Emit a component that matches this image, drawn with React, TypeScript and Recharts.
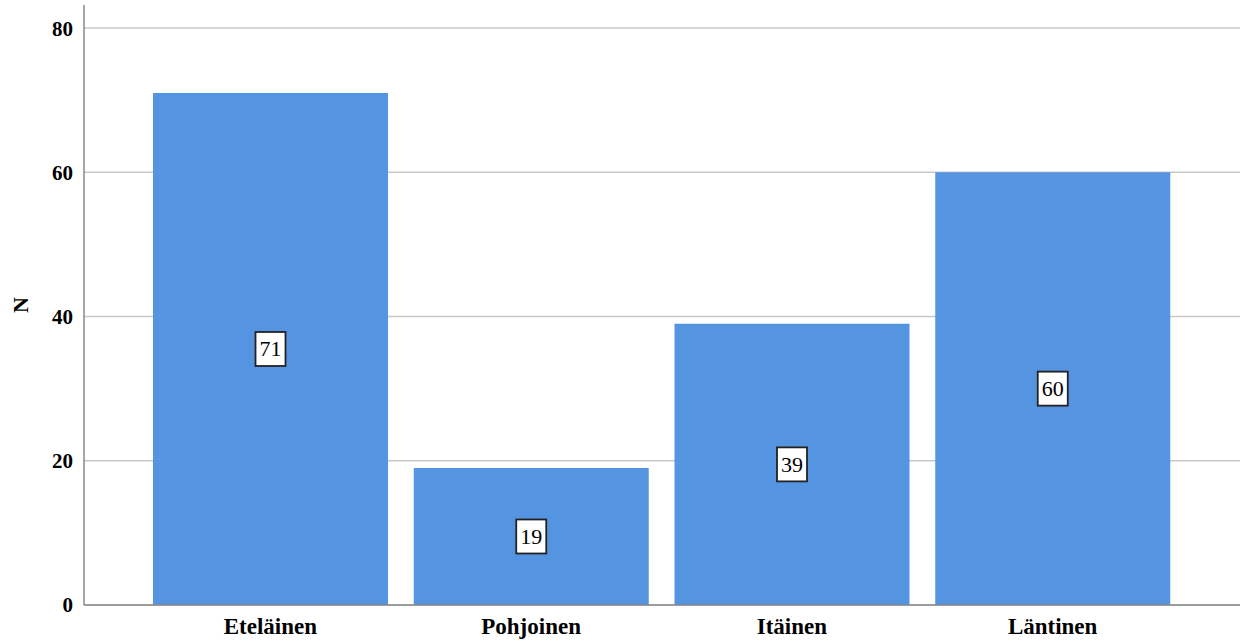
import { BarChart, Bar, XAxis, YAxis, CartesianGrid, LabelList } from 'recharts';

const regions = ['Eteläinen', 'Pohjoinen', 'Itäinen', 'Läntinen'];
const counts = [71, 19, 39, 60];
const yTicks = [0, 20, 40, 60, 80];

const data = regions.map((name, i) => ({ name, value: counts[i] }));

const FONT = '"Liberation Serif", "Times New Roman", serif';

function BoxLabel(props: any) {
  const { x, y, width, height, value } = props;
  const cx = x + width / 2;
  const cy = y + height / 2;
  const w = 30;
  const h = 34;
  return (
    <g>
      <rect x={cx - w / 2} y={cy - h / 2} width={w} height={h} fill="#fff" stroke="#222" strokeWidth={1.8} />
      <text
        x={cx}
        y={cy}
        textAnchor="middle"
        dominantBaseline="central"
        fontFamily={FONT}
        fontSize={22}
        fill="#000"
      >
        {value}
      </text>
    </g>
  );
}

export default function App() {
  return (
    <div style={{ position: 'absolute', left: 0, top: 0, width: 1248, height: 640, background: '#fff' }}>
      <BarChart
        width={1248}
        height={640}
        data={data}
        margin={{ top: 5, right: 8, bottom: 0, left: 0 }}
        barCategoryGap={13}
      >
        <CartesianGrid vertical={false} horizontalValues={yTicks} stroke="#c8c8c8" strokeWidth={1.5} />
        <XAxis
          dataKey="name"
          height={35}
          padding={{ left: 56, right: 57 }}
          tickLine={false}
          axisLine={{ stroke: '#888', strokeWidth: 1.5 }}
          tickMargin={7}
          tick={{ fontFamily: FONT, fontSize: 23, fontWeight: 'bold', fill: '#000' }}
        />
        <YAxis
          width={84}
          domain={[0, 83.2]}
          ticks={yTicks}
          tickLine={false}
          axisLine={{ stroke: '#888', strokeWidth: 1.5 }}
          tickMargin={5}
          tick={{ fontFamily: FONT, fontSize: 21, fontWeight: 'bold', fill: '#000' }}
          label={{
            value: 'N',
            angle: -90,
            position: 'insideLeft',
            offset: 20,
            style: { fontFamily: FONT, fontSize: 22, fontWeight: 'bold', fill: '#000', textAnchor: 'middle' },
          }}
        />
        <Bar dataKey="value" fill="#5594e1" isAnimationActive={false}>
          <LabelList dataKey="value" content={BoxLabel} />
        </Bar>
      </BarChart>
    </div>
  );
}
